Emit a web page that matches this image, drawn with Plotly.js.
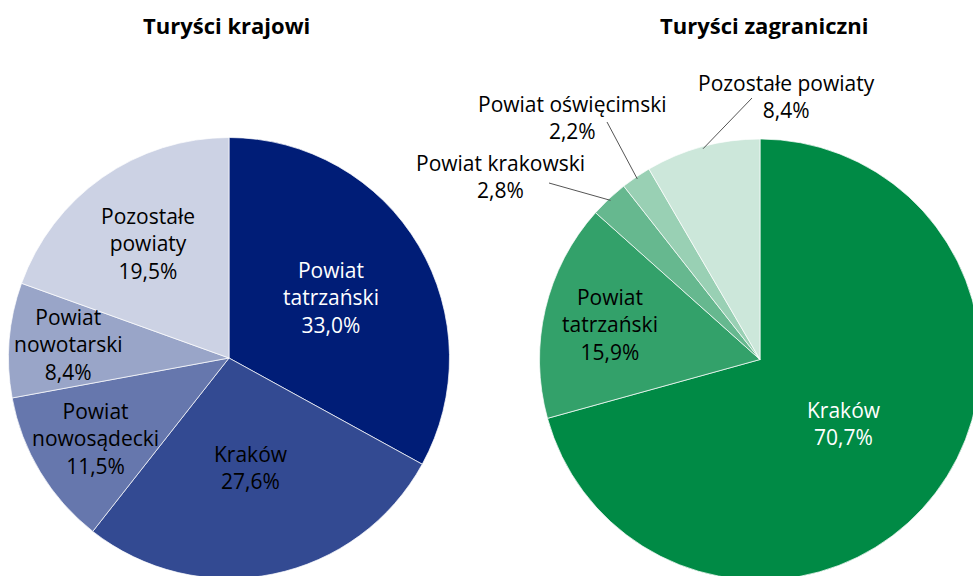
<!DOCTYPE html>
<html>
<head>
<meta charset="utf-8">
<script src="https://cdn.plot.ly/plotly-3.0.1.min.js"></script>
<style>
html, body { margin:0; padding:0; overflow:hidden; background:#fff; }
#chart { width:1000px; height:600px; }
</style>
</head>
<body>
<div id="chart"></div>
<script>
// ---- data ----
const domesticLabels = ["Powiat<br>tatrzański", "Kraków", "Powiat<br>nowosądecki", "Powiat<br>nowotarski", "Pozostałe<br>powiaty"];
const domesticValues = [33.0, 27.6, 11.5, 8.4, 19.5];
const foreignLabels = ["Kraków", "Powiat<br>tatrzański", "Powiat krakowski", "Powiat oświęcimski", "Pozostałe powiaty"];
const foreignValues = [70.7, 15.9, 2.8, 2.2, 8.4];
const titles = ["Turyści krajowi", "Turyści zagraniczni"];

// ---- style / layout ----
const domesticColors = ["#001D77", "#334A92", "#6677AD", "#99A5C8", "#CCD2E4"];
const foreignColors = ["#008A45", "#33A16A", "#66B88F", "#99D0B4", "#CCE7DA"];
const domesticTextColors = ["#ffffff", "#000000", "#000000", "#000000", "#000000"];
const foreignTextColors = ["#ffffff", "#000000", "#000000", "#000000", "#000000"];
const domesticLabelRadius = [0.535, 0.505, 0.71, 0.73, 0.635];
const foreignLabelRadius = [0.477, 0.70, null, null, null];
// outside label anchors (px) and leader-line label ends (px)
const foreignOutside = {
  2: {tx: 500, ty: 177, lx: 549, ly: 183},
  3: {tx: 572, ty: 117.5, lx: 607, ly: 122},
  4: {tx: 786, ty: 96.5, lx: 752, ly: 98}
};

const W = 1000, H = 600, R = 220.5;
const leftC = {x: 229, y: 358};
const rightC = {x: 760, y: 359.5};
const FONT = "Open Sans, sans-serif";
const FS = 21;

function domainFor(c) {
  return {x: [(c.x - R) / W, (c.x + R) / W], y: [1 - (c.y + R) / H, 1 - (c.y - R) / H]};
}
function fmt(v) { return v.toFixed(1).replace('.', ',') + '%'; }
function midAngles(values) {
  const tot = values.reduce((a, b) => a + b, 0);
  let cum = 0;
  return values.map(v => { const a = 2 * Math.PI * (cum + v / 2) / tot; cum += v; return a; });
}
function pt(c, ang, rf) {
  return {x: c.x + rf * R * Math.sin(ang), y: c.y - rf * R * Math.cos(ang)};
}

const traces = [
  {type: 'pie', labels: domesticLabels, values: domesticValues, sort: false, direction: 'clockwise', rotation: 0,
   marker: {colors: domesticColors, line: {color: '#ffffff', width: 0.7}}, textinfo: 'none', hoverinfo: 'skip',
   domain: domainFor(leftC), showlegend: false},
  {type: 'pie', labels: foreignLabels, values: foreignValues, sort: false, direction: 'clockwise', rotation: 0,
   marker: {colors: foreignColors, line: {color: '#ffffff', width: 0.7}}, textinfo: 'none', hoverinfo: 'skip',
   domain: domainFor(rightC), showlegend: false}
];

const annotations = [];
const shapes = [];
function ann(x, y, text, color, bold, size) {
  annotations.push({xref: 'paper', yref: 'paper', x: x / W, y: 1 - y / H, text: text, showarrow: false,
    xanchor: 'center', yanchor: 'middle', align: 'center',
    font: {family: FONT, size: size || FS, color: color, weight: bold ? 'bold' : 'normal'}});
}

const dA = midAngles(domesticValues);
domesticLabels.forEach((l, i) => {
  const p = pt(leftC, dA[i], domesticLabelRadius[i]);
  ann(p.x, p.y, l + '<br>' + fmt(domesticValues[i]), domesticTextColors[i]);
});
const fA = midAngles(foreignValues);
foreignLabels.forEach((l, i) => {
  if (foreignLabelRadius[i] !== null) {
    const p = pt(rightC, fA[i], foreignLabelRadius[i]);
    ann(p.x, p.y, l + '<br>' + fmt(foreignValues[i]), foreignTextColors[i]);
  } else {
    const o = foreignOutside[i];
    ann(o.tx, o.ty, l + '<br>' + fmt(foreignValues[i]), '#000000');
    const e = pt(rightC, fA[i], 0.99);
    shapes.push({type: 'line', xref: 'paper', yref: 'paper', x0: e.x / W, y0: 1 - e.y / H, x1: o.lx / W, y1: 1 - o.ly / H,
      line: {color: '#555555', width: 1}});
  }
});
ann(226, 25, titles[0], '#000000', true, 22);
ann(764, 25, titles[1], '#000000', true, 22);

Plotly.newPlot('chart', traces, {
  width: W, height: H, margin: {l: 0, r: 0, t: 0, b: 0},
  paper_bgcolor: '#ffffff', plot_bgcolor: '#ffffff',
  annotations: annotations, shapes: shapes, showlegend: false
}, {staticPlot: true});
</script>
</body>
</html>
